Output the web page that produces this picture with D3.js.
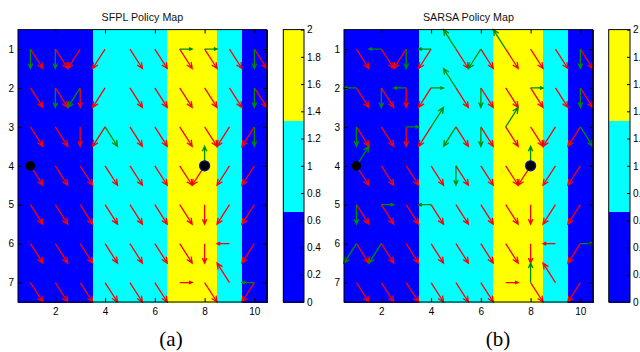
<!DOCTYPE html>
<html>
<head>
<meta charset="utf-8">
<script src="https://cdn.jsdelivr.net/npm/d3@7"></script>
<style>
  html, body { margin: 0; padding: 0; background: #fff; }
  svg { display: block; }
</style>
</head>
<body>
<svg id="chart" width="640" height="352"></svg>
<script>
// ---------------- DATA ----------------
const columns = [1, 2, 3, 4, 5, 6, 7, 8, 9, 10];
const rows = [1, 2, 3, 4, 5, 6, 7];
const xTicks = [2, 4, 6, 8, 10];
const colorbarTicks = [0, 0.2, 0.4, 0.6, 0.8, 1, 1.2, 1.4, 1.6, 1.8, 2];
const colorbarDomain = [0, 2];
const cellColors = ["#0000ff", "#00ffff", "#ffff00"];

// cell values (row by row, columns 1..10)
const cellValues = [
  [0, 0, 0, 1, 1, 1, 2, 2, 1, 0],
  [0, 0, 0, 1, 1, 1, 2, 2, 1, 0],
  [0, 0, 0, 1, 1, 1, 2, 2, 1, 0],
  [0, 0, 0, 1, 1, 1, 2, 2, 1, 0],
  [0, 0, 0, 1, 1, 1, 2, 2, 1, 0],
  [0, 0, 0, 1, 1, 1, 2, 2, 1, 0],
  [0, 0, 0, 1, 1, 1, 2, 2, 1, 0]
];

// action directions per cell ("." = no arrow)
const sfplRed = [
  "SE SE SW SW SE SE SE SE SE SE",
  "SE SE S SW SE SE SE SE SE SE",
  "SE SE S SW SE SE SE SE SW SW",
  "SE SE SE SE SE SE SE SW SW SW",
  "SE SE SE SE SE SE SE S SW SW",
  "SE SE SE SE SE SE SE S W SW",
  "SE SE SE SE SE SE E SE NW SW"
];
const sfplGreen = [
  "S S . . . . E E . S",
  ". S SW . . . . . . S",
  ". . . SE . . . . . S",
  ". . . . . . . N . .",
  ". . . . . . . . . .",
  ". . . . . . . . . .",
  ". . . . . . . . . W"
];
const sarsaRed = [
  "SE SE SW SW SE SE SE SE SE SE",
  "SE SE S SW SE SE SE SE SE SE",
  "SE SE S SW SE SE SE SE SW SW",
  "SE SE SE SE SE SE SE SW SW SW",
  "SE SE SE SE SE SE SE S SW SW",
  "SE SE SE SE SE SE SE S W SW",
  "SE SE SE SE SE SE E SE NW SW"
];
const sarsaGreen = [
  ". W S W NW SW NW . . S",
  "W S W E NW S . E . S",
  "S . E NE SW S NE . . SE",
  "NE . . . S . . N . .",
  "S E . W . . . . . .",
  "SW SW . . . . . . . E",
  ". . . . . . . N . ."
];
const directionVectors = {
  N: [0, -1], S: [0, 1], E: [1, 0], W: [-1, 0],
  NE: [1, -1], NW: [-1, -1], SE: [1, 1], SW: [-1, 1]
};
const arrowScale = 0.5;
const startPoint = [1, 4];
const goalPoint = [8, 4];
const panelTitles = ["SFPL Policy Map", "SARSA Policy Map"];
const panelCaptions = ["(a)", "(b)"];

// ---------------- DRAW ----------------
const svg = d3.select("#chart");
const color = d3.scaleQuantize().domain(colorbarDomain).range(cellColors);
const RED = "#ff0000", GREEN = "#008a00";
const SANS = "'Liberation Sans', Arial, Helvetica, sans-serif";
const SERIF = "'Liberation Serif', 'Times New Roman', serif";

const panels = [
  { left: 18, right: 266.8, top: 29.6, bottom: 302, cbL: 283.3, cbR: 304, capX: 171,
    red: sfplRed, green: sfplGreen, title: panelTitles[0], caption: panelCaptions[0] },
  { left: 344, right: 592.8, top: 29.6, bottom: 302, cbL: 608.7, cbR: 630, capX: 498,
    red: sarsaRed, green: sarsaGreen, title: panelTitles[1], caption: panelCaptions[1] }
];

function parseDirs(lines) {
  return lines.map(l => l.trim().split(/\s+/));
}

function drawArrow(g, x, y, cx, cy, dir, stroke) {
  const v = directionVectors[dir];
  if (!v) return;
  const x0 = x(cx), y0 = y(cy);
  const x1 = x(cx + v[0] * arrowScale), y1 = y(cy + v[1] * arrowScale);
  const ang = Math.atan2(y1 - y0, x1 - x0);
  const len = Math.hypot(x1 - x0, y1 - y0);
  const h = len * 0.28, a = 0.42;
  const p = d3.path();
  p.moveTo(x0, y0); p.lineTo(x1, y1);
  p.moveTo(x1 - h * Math.cos(ang - a), y1 - h * Math.sin(ang - a));
  p.lineTo(x1, y1);
  p.lineTo(x1 - h * Math.cos(ang + a), y1 - h * Math.sin(ang + a));
  g.append("path").attr("d", p.toString())
    .attr("fill", "none").attr("stroke", stroke)
    .attr("stroke-width", 1.3).attr("stroke-linejoin", "miter");
}

panels.forEach(P => {
  const x = d3.scaleLinear().domain([0.5, 10.5]).range([P.left, P.right]);
  const y = d3.scaleLinear().domain([0.5, 7.5]).range([P.top, P.bottom]);
  const g = svg.append("g");

  // heatmap cells
  const cells = [];
  cellValues.forEach((row, ri) => row.forEach((v, ci) => cells.push({ c: columns[ci], r: rows[ri], v })));
  g.append("g").attr("shape-rendering", "crispEdges")
    .selectAll("rect").data(cells).join("rect")
    .attr("x", d => x(d.c - 0.5)).attr("y", d => y(d.r - 0.5))
    .attr("width", d => x(d.c + 0.5) - x(d.c - 0.5) + 1)
    .attr("height", d => y(d.r + 0.5) - y(d.r - 0.5) + 1)
    .attr("fill", d => color(d.v));

  // arrows
  const ag = g.append("g");
  const red = parseDirs(P.red), green = parseDirs(P.green);
  rows.forEach((r, ri) => columns.forEach((c, ci) => {
    drawArrow(ag, x, y, c, r, red[ri][ci], RED);
  }));
  rows.forEach((r, ri) => columns.forEach((c, ci) => {
    drawArrow(ag, x, y, c, r, green[ri][ci], GREEN);
  }));

  // start / goal markers
  g.append("circle").attr("cx", x(startPoint[0])).attr("cy", y(startPoint[1]))
    .attr("r", 4.8).attr("fill", "#000");
  g.append("circle").attr("cx", x(goalPoint[0])).attr("cy", y(goalPoint[1]))
    .attr("r", 5).attr("fill", "#000").attr("stroke", "#1010a0").attr("stroke-width", 1.3);

  // axes
  const fs = "10px";
  const fmt = d3.format("d");
  const axL = d3.axisLeft(y).tickValues(rows).tickFormat(fmt).tickSizeInner(-4).tickSizeOuter(0).tickPadding(4);
  const axR = d3.axisRight(y).tickValues(rows).tickSizeInner(-4).tickSizeOuter(0).tickFormat("");
  const axB = d3.axisBottom(x).tickValues(xTicks).tickFormat(fmt).tickSizeInner(-4).tickSizeOuter(0).tickPadding(6);
  const axT = d3.axisTop(x).tickValues(xTicks).tickSizeInner(-4).tickSizeOuter(0).tickFormat("");
  [[axL, `translate(${P.left},0)`], [axR, `translate(${P.right},0)`],
   [axB, `translate(0,${P.bottom})`], [axT, `translate(0,${P.top})`]].forEach(([ax, t]) => {
    const ga = g.append("g").attr("transform", t).call(ax);
    ga.select(".domain").remove();
    ga.selectAll("line").attr("stroke", "#000");
    ga.selectAll("text").style("font-size", fs).style("font-family", SANS).attr("fill", "#000");
  });
  g.append("rect").attr("x", P.left).attr("y", P.top)
    .attr("width", P.right - P.left).attr("height", P.bottom - P.top)
    .attr("fill", "none").attr("stroke", "#000").attr("stroke-width", 1);

  // title
  g.append("text").attr("x", (P.left + P.right) / 2).attr("y", 21)
    .attr("text-anchor", "middle").style("font-size", "10.7px").style("font-family", SANS)
    .attr("fill", "#111").text(P.title);

  // colorbar
  const cy = d3.scaleLinear().domain(colorbarDomain).range([P.bottom, P.top]);
  const bands = color.range().map(c => ({ c, ext: color.invertExtent(c) }));
  g.append("g").attr("shape-rendering", "crispEdges")
    .selectAll("rect").data(bands).join("rect")
    .attr("x", P.cbL).attr("width", P.cbR - P.cbL)
    .attr("y", d => cy(d.ext[1])).attr("height", d => cy(d.ext[0]) - cy(d.ext[1]) + 0.5)
    .attr("fill", d => d.c);
  const cax = d3.axisRight(cy).tickValues(colorbarTicks).tickSizeInner(-3).tickSizeOuter(0)
    .tickPadding(3).tickFormat(d3.format("~g"));
  const gc = g.append("g").attr("transform", `translate(${P.cbR},0)`).call(cax);
  gc.select(".domain").remove();
  gc.selectAll("line").attr("stroke", "#000");
  gc.selectAll("text").style("font-size", fs).style("font-family", SANS).attr("fill", "#000");
  g.append("rect").attr("x", P.cbL).attr("y", P.top)
    .attr("width", P.cbR - P.cbL).attr("height", P.bottom - P.top)
    .attr("fill", "none").attr("stroke", "#000").attr("stroke-width", 1);

  // caption
  g.append("text").attr("x", P.capX).attr("y", 346).attr("text-anchor", "middle")
    .style("font-family", SERIF).style("font-size", "21px")
    .attr("fill", "#000").text(P.caption);
});
</script>
</body>
</html>
